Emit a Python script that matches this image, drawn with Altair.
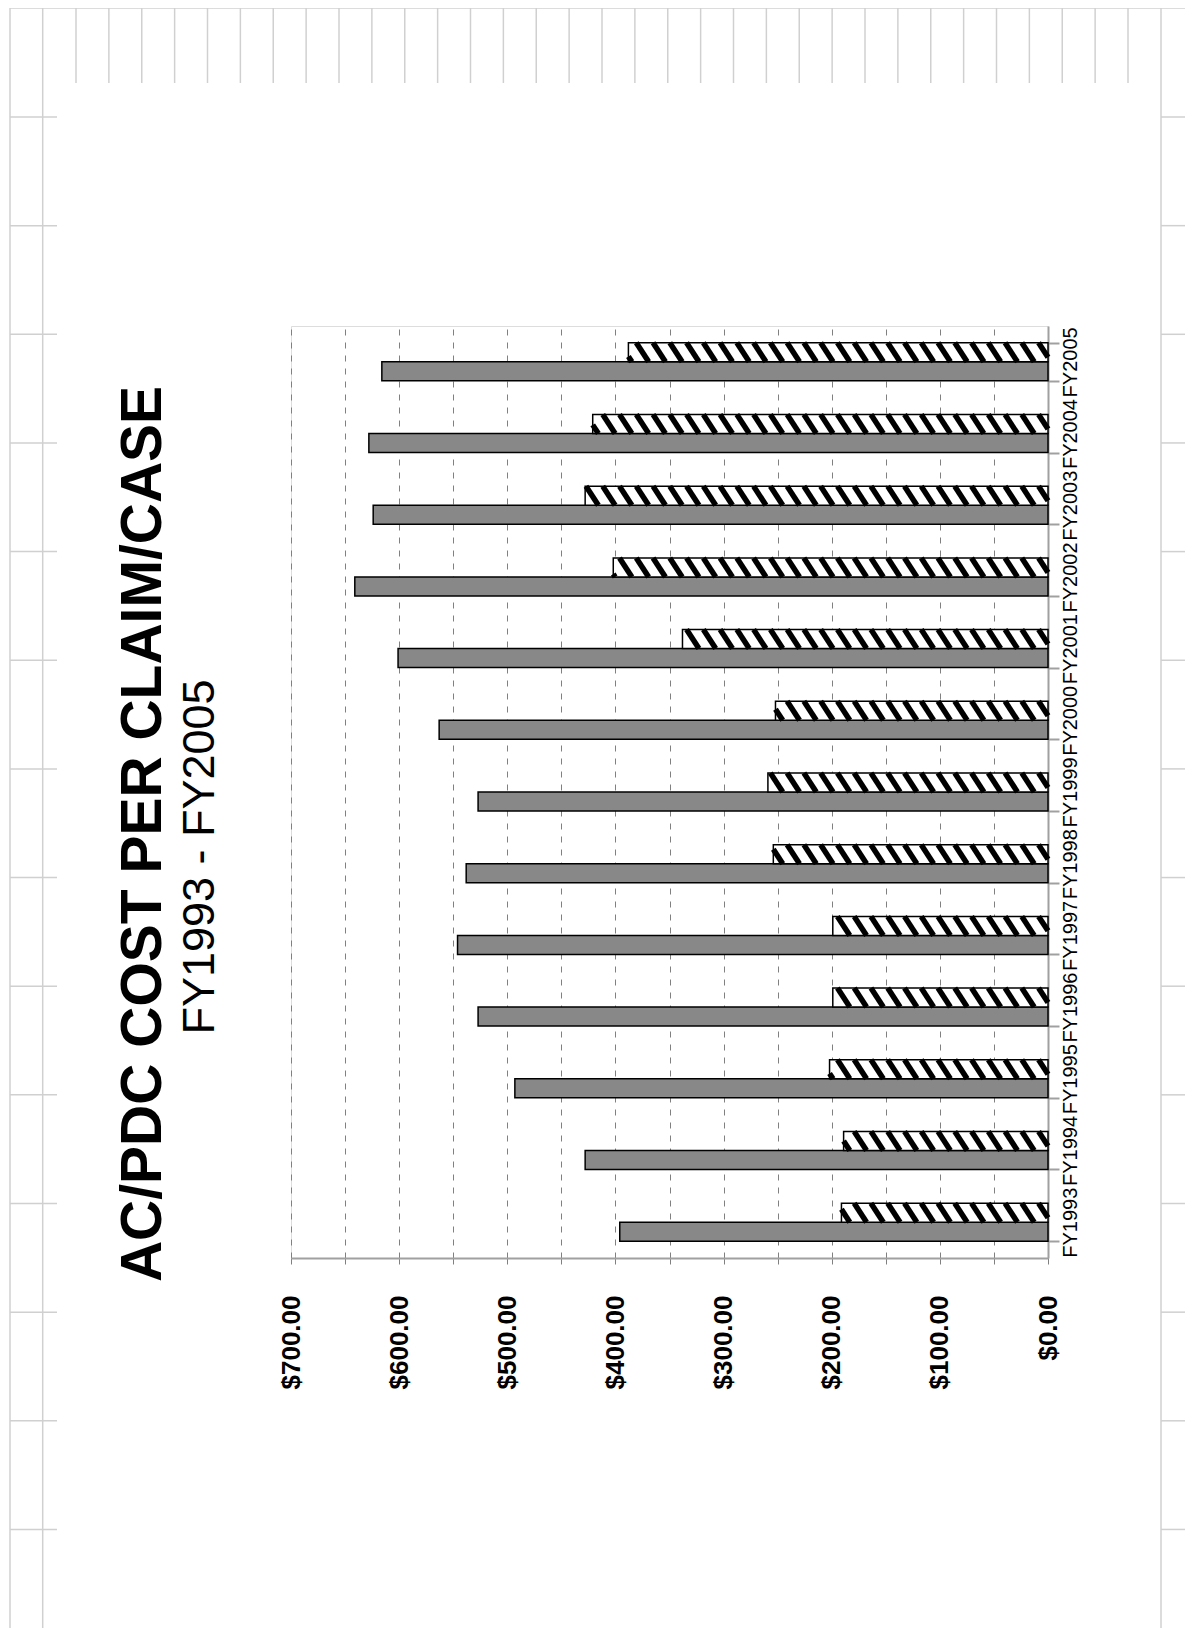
import altair as alt
import numpy as np
import pandas as pd

# ---------------- data ----------------
YEARS = ["FY1993", "FY1994", "FY1995", "FY1996", "FY1997", "FY1998", "FY1999",
         "FY2000", "FY2001", "FY2002", "FY2003", "FY2004", "FY2005"]
SHADED_VALUES = [396, 428, 493, 527, 546, 538, 527, 563, 601, 641, 624, 628, 616]
HATCHED_VALUES = [191, 189, 202, 199, 199, 254, 259, 252, 338, 402, 428, 421, 388]
SERIES = ["Hatched series", "Shaded series"]   # upper bar, lower bar in each group
AXIS_TICKS = [0, 50, 100, 150, 200, 250, 300, 350, 400, 450, 500, 550, 600, 650, 700]
TITLE = "AC/PDC COST PER CLAIM/CASE"
SUBTITLE = "FY1993 - FY2005"

# ---------------- styles / layout ----------------
FONT = "Liberation Sans, Arial, sans-serif"
W, H = 757, 932
XMAX = 700
PAD = {"left": 283, "top": 318, "right": 137, "bottom": 370}
OX, OY = 8 + PAD["left"], 8 + PAD["top"]      # page position of the plot origin
SHADE = "#888888"
FRAME = "#a0a0a0"
GRID = "#808080"
PAGE_GRID = "#d0d0d0"

# hatch pattern geometry
SUB_BAND = 19.0          # px thickness of one bar
HALF = SUB_BAND / 2
SLANT = 0.65
STRIPE_STEP = 15.5       # dollars between hatch strokes
PX_PER_DOLLAR = W / XMAX

bars = pd.DataFrame({
    "year": YEARS * 2,
    "series": [SERIES[1]] * len(YEARS) + [SERIES[0]] * len(YEARS),
    "value": SHADED_VALUES + HATCHED_VALUES,
})
shaded = bars[bars["series"] == SERIES[1]]
hatched = bars[bars["series"] == SERIES[0]]


def stripe_path(c, v):
    """Diagonal hatch stroke centred at dollar position c, clipped to the bar [0, v]."""
    lo = -(v - c) * PX_PER_DOLLAR / HALF
    hi = c * PX_PER_DOLLAR / HALF
    t0 = max(-1.0, lo / SLANT)
    t1 = min(1.0, hi / SLANT)
    if t1 - t0 < 0.05:
        return None
    return f"M{SLANT * t0:.3f},{t0:.3f}L{SLANT * t1:.3f},{t1:.3f}"


stripe_rows = []
for yr, v in zip(YEARS, HATCHED_VALUES):
    for c in np.arange(-STRIPE_STEP + 3.0, v + STRIPE_STEP, STRIPE_STEP):
        p = stripe_path(float(c), v)
        if p:
            stripe_rows.append({"year": yr, "series": SERIES[0], "value": float(c), "path": p})
stripes = pd.DataFrame(stripe_rows)

# ---------------- shared encodings ----------------
X_AXIS = alt.Axis(
    values=AXIS_TICKS,
    labelExpr="datum.value % 100 === 0 ? format(datum.value, '$,.2f') : ''",
    labelAngle=270, labelAlign="right", labelBaseline="middle",
    labelFont=FONT, labelFontSize=26, labelFontWeight="bold", labelColor="black",
    labelPadding=25, labelFlush=False, labelOverlap=False,
    ticks=True, tickSize=12, tickColor=GRID, tickWidth=1, tickDash=[6, 6],
    grid=True, gridColor=GRID, gridWidth=1, gridDash=[6, 7],
    domainColor=FRAME, domainWidth=2, title=None, orient="bottom",
)
Y_AXIS = alt.Axis(
    orient="right", labelAngle=270, labelAlign="center", labelBaseline="top",
    labelFont=FONT, labelFontSize=20, labelColor="black", labelPadding=1,
    tickBand="extent", tickSize=11, tickColor=FRAME, tickWidth=2,
    domainColor=FRAME, domainWidth=2, title=None, grid=False, labelOverlap=False,
)


def enc(chart, **extra):
    return chart.encode(
        x=alt.X("value:Q", stack=None,
                scale=alt.Scale(domain=[0, XMAX], reverse=True, nice=False),
                axis=X_AXIS),
        y=alt.Y("year:N", sort=YEARS[::-1],
                scale=alt.Scale(paddingInner=0.47, paddingOuter=0.235),
                axis=Y_AXIS),
        yOffset=alt.YOffset("series:N", sort=SERIES,
                            scale=alt.Scale(domain=SERIES, paddingInner=0, paddingOuter=0)),
        **extra,
    )


shaded_bars = enc(alt.Chart(shaded).mark_bar(fill=SHADE, stroke="black", strokeWidth=1.5))
hatch_fill = enc(alt.Chart(hatched).mark_bar(fill="white", strokeWidth=0))
hatch_lines = enc(
    alt.Chart(stripes).mark_point(filled=False, stroke="black", strokeWidth=5.5,
                                  size=SUB_BAND ** 2, opacity=1, strokeCap="butt"),
    shape=alt.Shape("path:N", scale=None, legend=None),
)
hatch_outline = enc(alt.Chart(hatched).mark_bar(fillOpacity=0, stroke="black", strokeWidth=1.5))

main = alt.layer(shaded_bars, hatch_fill, hatch_lines, hatch_outline)

# ---------------- titles (rotated like the reference page) ----------------
title_txt = alt.Chart(pd.DataFrame({"t": [TITLE]})).mark_text(
    angle=270, align="center", baseline="alphabetic", font=FONT, fontSize=57,
    fontWeight="bold", color="black",
).encode(text="t:N", x=alt.value(161 - OX), y=alt.value(834 - OY))
subtitle_txt = alt.Chart(pd.DataFrame({"t": [SUBTITLE]})).mark_text(
    angle=270, align="center", baseline="alphabetic", font=FONT, fontSize=45,
    fontWeight="normal", color="black",
).encode(text="t:N", x=alt.value(214 - OX), y=alt.value(857 - OY))

# ---------------- page grid decoration (spreadsheet cell lines) ----------------
PAGE_TOP, PAGE_BOTTOM, PAGE_RIGHT = 8, 1636, 1193
LEFT_LINES_X = [10, 42.7]
RIGHT_LINE_X = 1161
ROW_TICKS_Y = [117 + 108.65 * k for k in range(14)]
COL_TICKS_X = [76 + 32.875 * k for k in range(33)]
COL_TICK_BOTTOM = 83
LEFT_TICK_END = 57

deco_rows = [{"px": 10 - OX, "px2": PAGE_RIGHT - OX, "py": PAGE_TOP - OY, "py2": PAGE_TOP - OY}]
for lx in LEFT_LINES_X + [RIGHT_LINE_X]:
    deco_rows.append({"px": lx - OX, "px2": lx - OX, "py": PAGE_TOP - OY, "py2": PAGE_BOTTOM - OY})
for cx in COL_TICKS_X:
    deco_rows.append({"px": cx - OX, "px2": cx - OX, "py": PAGE_TOP - OY, "py2": COL_TICK_BOTTOM - OY})
for ry in ROW_TICKS_Y:
    deco_rows.append({"px": 10 - OX, "px2": LEFT_TICK_END - OX, "py": ry - OY, "py2": ry - OY})
    deco_rows.append({"px": RIGHT_LINE_X - OX, "px2": PAGE_RIGHT - OX, "py": ry - OY, "py2": ry - OY})

deco = alt.Chart(pd.DataFrame(deco_rows)).mark_rule(color=PAGE_GRID, strokeWidth=1.5).encode(
    x=alt.X("px:Q", scale=None, axis=None),
    x2="px2:Q",
    y=alt.Y("py:Q", scale=None, axis=None),
    y2="py2:Q",
)

chart = alt.layer(deco, title_txt, subtitle_txt, main).resolve_scale(
    x="independent", y="independent"
).properties(
    width=W, height=H,
    padding=PAD,
    autosize=alt.AutoSizeParams(type="none"),
).configure_view(stroke=FRAME, strokeWidth=2).configure(background="white")

chart.save("out.html", embed_options={"renderer": "svg", "actions": False})
